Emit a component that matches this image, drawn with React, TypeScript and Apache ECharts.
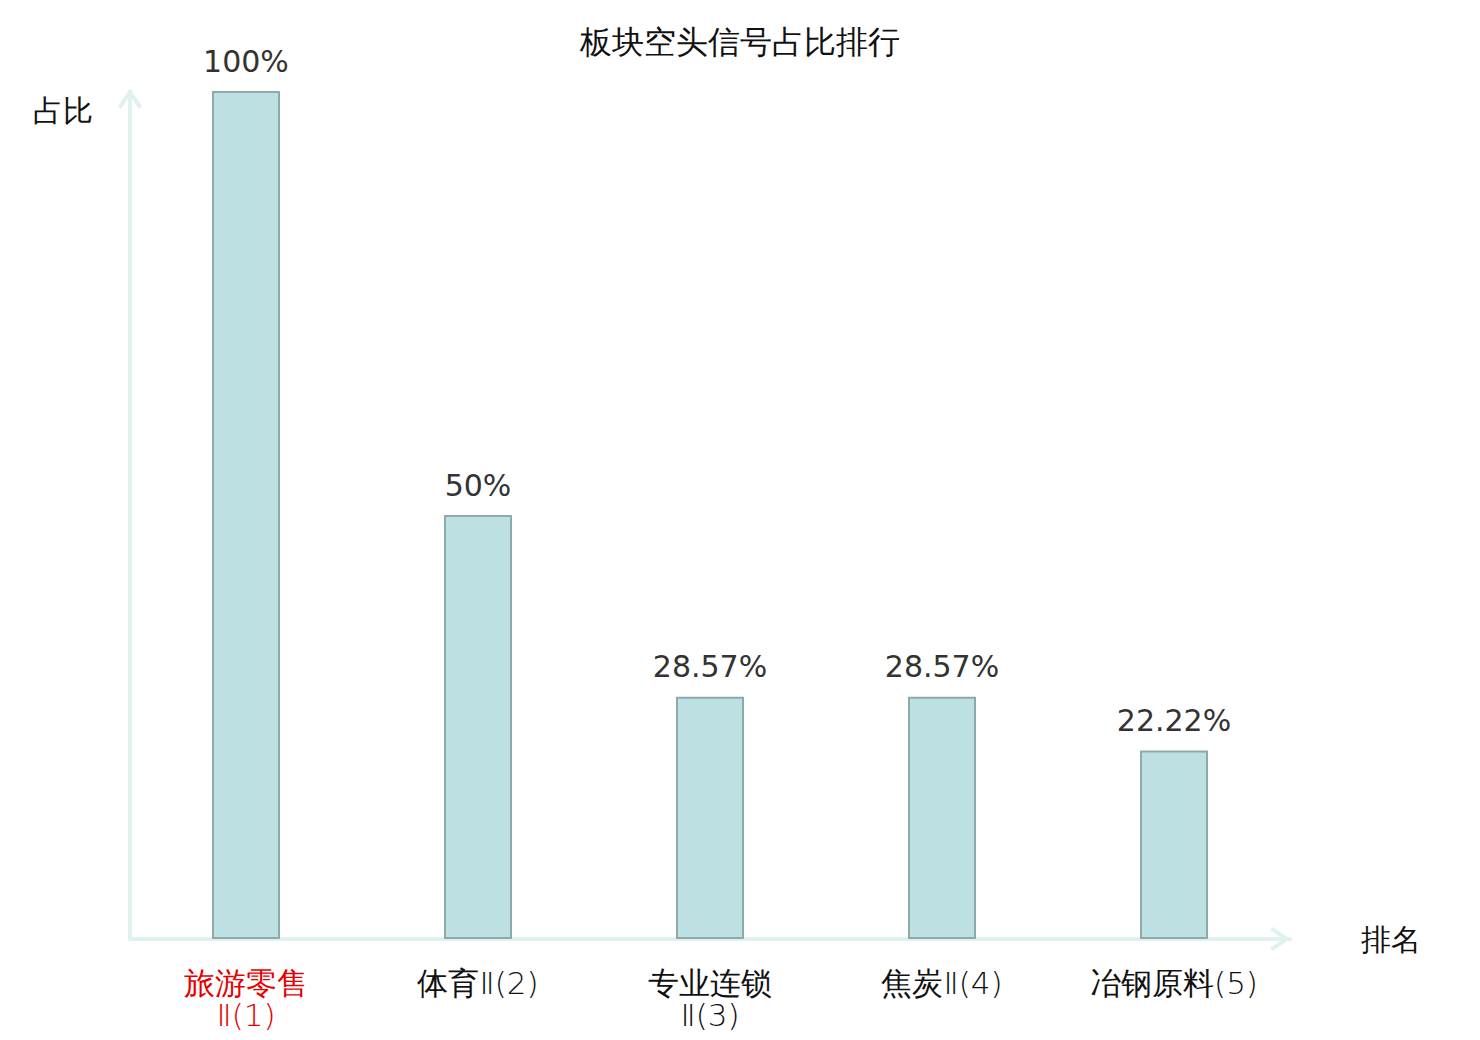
import React, { useEffect, useRef } from "react";
import * as echarts from "echarts";

const titleText = "板块空头信号占比排行";
const categories = ["旅游零售Ⅱ(1)", "体育Ⅱ(2)", "专业连锁Ⅱ(3)", "焦炭Ⅱ(4)", "冶钢原料(5)"];
const values = [100, 50, 28.57, 28.57, 22.22];
const valueLabels = ["100%", "50%", "28.57%", "28.57%", "22.22%"];
const highlightIndex = 0;

const FONT = "'DejaVu Sans', sans-serif";
const axisColor = "#dff2ef";
const chevron = "path://M12,0 L24,17 L21,20 L12,7 L3,20 L0,17 Z";

function splitLabel(v: string, i: number) {
  let k = 0;
  while (k < v.length && v.charCodeAt(k) >= 0x4e00) k++;
  const cjk = v.slice(0, k);
  const rest = v.slice(k);
  const red = i === highlightIndex;
  const c = red ? "cr" : "c";
  const l = red ? "lr" : "l";
  const sep = v.length > 7 ? "\n" : "";
  return `{${c}|${cjk}}${sep}{${l}|${rest}}`;
}

export default function App() {
  const ref = useRef<HTMLDivElement>(null);
  useEffect(() => {
    if (!ref.current) return;
    const chart = echarts.init(ref.current, undefined, { renderer: "svg" });
    const base = { fontSize: 31, lineHeight: 32, fontFamily: FONT };
    chart.setOption({
      animation: false,
      backgroundColor: "#ffffff",
      textStyle: { fontFamily: FONT },
      title: {
        text: titleText,
        left: "center",
        top: 26,
        padding: 0,
        textStyle: { fontSize: 32, fontWeight: "normal", color: "#111", fontFamily: FONT },
      },
      grid: { left: 130, right: 190, top: 91, bottom: 101, containLabel: false },
      xAxis: {
        type: "category",
        data: categories,
        name: "排名",
        nameLocation: "end",
        nameGap: 71,
        nameTextStyle: { fontSize: 30, color: "#111", verticalAlign: "middle", fontFamily: FONT },
        axisLine: {
          show: true,
          lineStyle: { color: axisColor, width: 4 },
          symbol: ["none", chevron],
          symbolSize: [24, 20],
          symbolOffset: [0, -10],
        },
        axisTick: { show: false },
        axisLabel: {
          interval: 0,
          margin: 28,
          fontSize: 31,
          lineHeight: 32,
          fontFamily: FONT,
          formatter: splitLabel,
          rich: {
            c: { ...base, color: "#111", fontWeight: "normal" },
            l: { ...base, color: "#111", fontWeight: "lighter" },
            cr: { ...base, color: "#e60000", fontWeight: "normal" },
            lr: { ...base, color: "#e60000", fontWeight: "lighter" },
          },
        },
      },
      yAxis: {
        type: "value",
        min: 0,
        max: 100,
        name: "占比",
        nameLocation: "end",
        nameGap: -19,
        nameTextStyle: {
          fontSize: 30,
          color: "#111",
          align: "right",
          verticalAlign: "middle",
          padding: [0, 37, 0, 0],
          fontFamily: FONT,
        },
        axisLine: {
          show: true,
          lineStyle: { color: axisColor, width: 4 },
          symbol: ["none", chevron],
          symbolSize: [24, 20],
          symbolOffset: [0, -8],
        },
        axisTick: { show: false },
        axisLabel: { show: false },
        splitLine: { show: false },
      },
      series: [
        {
          type: "bar",
          data: values,
          barWidth: 68,
          itemStyle: { color: "#bde0e2", borderColor: "#8ea9a9", borderWidth: 2 },
          label: {
            show: true,
            position: "top",
            distance: 15,
            fontSize: 30,
            color: "#333",
            fontFamily: FONT,
            formatter: (p: any) => valueLabels[p.dataIndex],
          },
        },
      ],
    });
    return () => chart.dispose();
  }, []);
  return (
    <div
      ref={ref}
      style={{ position: "fixed", left: 0, top: 0, width: 1480, height: 1040, background: "#fff" }}
    />
  );
}
